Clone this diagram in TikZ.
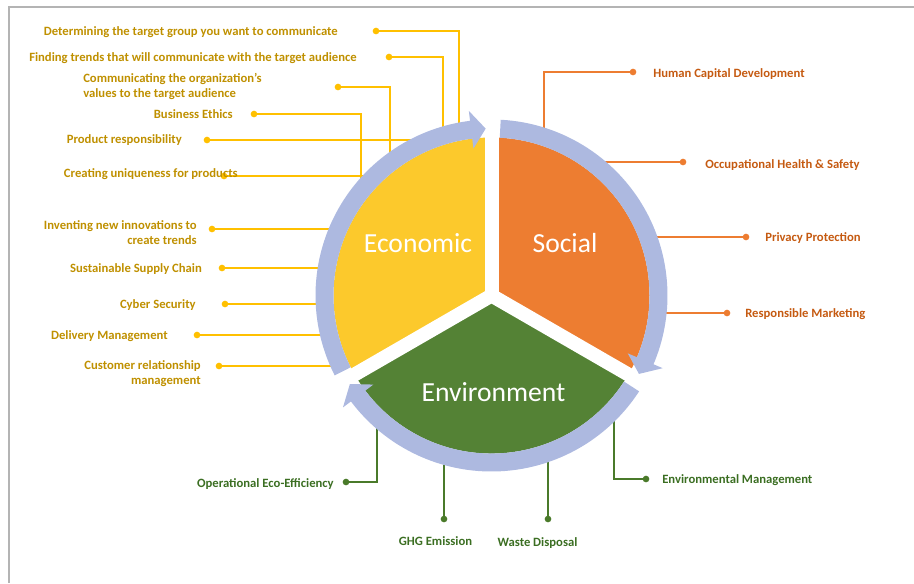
\documentclass[tikz,border=0pt]{standalone}
\usepackage{fontspec}
\setmainfont{Carlito}
\definecolor{yln}{HTML}{FFC000}
\definecolor{ytxt}{HTML}{BF9000}
\definecolor{oln}{HTML}{ED7D31}
\definecolor{otxt}{HTML}{C55A11}
\definecolor{gln}{HTML}{4A7A2A}
\definecolor{gtxt}{HTML}{3B6E22}
\definecolor{secY}{HTML}{FCC92C}
\definecolor{secO}{HTML}{ED7D31}
\definecolor{secG}{HTML}{548235}
\definecolor{ringc}{HTML}{ADB9E0}
\definecolor{framec}{HTML}{B4B4B4}
\tikzset{
  lab/.style={font=\fontsize{9.5}{11.3}\selectfont\bfseries, inner sep=0pt},
  ylab/.style={lab, text=ytxt},
  olab/.style={lab, text=otxt},
  glab/.style={lab, text=gtxt},
  dotn/.style={circle, inner sep=0pt, minimum size=5pt},
  ydot/.style={dotn, fill=yln},
  odot/.style={dotn, fill=oln},
  gdot/.style={dotn, fill=gln},
  yconn/.style={draw=yln, line width=1.5pt},
  oconn/.style={draw=oln, line width=1.5pt},
  gconn/.style={draw=gln, line width=1.5pt},
  big/.style={font=\fontsize{20.7}{24}\selectfont, text=white, inner sep=0pt},
  gapline/.style={draw=white, line width=10.5pt},
  ringarrow/.style={fill=ringc},
}
\begin{document}
\begin{tikzpicture}[x=0.75pt, y=-0.75pt]
\useasboundingbox (0,0) rectangle (914,583);
\draw[framec, line width=1.5pt] (9,583) -- (9,7) -- (914,7);

% ---------- dots ----------
\node[ydot] (d1) at (376,31) {};
\node[ydot] (d2) at (389,57) {};
\node[ydot] (d3) at (338,87) {};
\node[ydot] (d4) at (254,114) {};
\node[ydot] (d5) at (207,140) {};
\node[ydot] (d6) at (224,176) {};
\node[ydot] (d7) at (212,229) {};
\node[ydot] (d8) at (222,268) {};
\node[ydot] (d9) at (225,304) {};
\node[ydot] (d10) at (197,335) {};
\node[ydot] (d11) at (219,366) {};
\node[odot] (s1) at (633,72) {};
\node[odot] (s2) at (683,162) {};
\node[odot] (s3) at (746,237) {};
\node[odot] (s4) at (727,313) {};
\node[gdot] (g1) at (346,482) {};
\node[gdot] (g2) at (444,519) {};
\node[gdot] (g3) at (548,519) {};
\node[gdot] (g4) at (646,479) {};

% ---------- connector ends (under the ring) ----------
\coordinate (e1) at (459,132);
\coordinate (e2) at (443,136);
\coordinate (e3) at (390,163);
\coordinate (e4) at (361,180);
\coordinate (e5) at (431,140);
\coordinate (e6) at (366,176);
\coordinate (e7) at (337,229);
\coordinate (e8) at (325,268);
\coordinate (e9) at (323,304);
\coordinate (e10) at (327,335);
\coordinate (e11) at (338,366);
\coordinate (f1) at (544,138);
\coordinate (f2) at (591,162);
\coordinate (f3) at (648,237);
\coordinate (f4) at (658,313);
\coordinate (h1) at (377,420);
\coordinate (h2) at (444,458);
\coordinate (h3) at (548,455);
\coordinate (h4) at (614,411);

% ---------- connectors ----------
\draw[yconn] (d1.center) -| (e1);
\draw[yconn] (d2.center) -| (e2);
\draw[yconn] (d3.center) -| (e3);
\draw[yconn] (d4.center) -| (e4);
\draw[yconn] (d5.center) -- (e5);
\draw[yconn] (d6.center) -- (e6);
\draw[yconn] (d7.center) -- (e7);
\draw[yconn] (d8.center) -- (e8);
\draw[yconn] (d9.center) -- (e9);
\draw[yconn] (d10.center) -- (e10);
\draw[yconn] (d11.center) -- (e11);
\draw[oconn] (s1.center) -| (f1);
\draw[oconn] (s2.center) -- (f2);
\draw[oconn] (s3.center) -- (f3);
\draw[oconn] (s4.center) -- (f4);
\draw[gconn] (g1.center) -| (h1);
\draw[gconn] (g2.center) -- (h2);
\draw[gconn] (g3.center) -- (h3);
\draw[gconn] (g4.center) -| (h4);

% ---------- sectors and ring ----------
\begin{scope}[shift={(491.5,295.5)}]
  \fill[secY] (0,0) -- (-90:158) arc[start angle=-90, end angle=-210, radius=158] -- cycle;
  \fill[secO] (0,0) -- (-90:158) arc[start angle=-90, end angle=30, radius=158] -- cycle;
  \fill[secG] (0,0) -- (30:158) arc[start angle=30, end angle=150, radius=158] -- cycle;
  \draw[gapline] (0,0) -- (-90:162);
  \draw[gapline] (0,0) -- (150:162);
  \draw[gapline] (0,0) -- (30:162);
  \fill[ringarrow] (-207:176) arc[start angle=-207, end angle=-97, radius=176]
     -- (-97:186) -- (-92:167) -- (-97:148) -- (-97:158)
     arc[start angle=-97, end angle=-207, radius=158] -- cycle;
  \fill[ringarrow] (-87:176) arc[start angle=-87, end angle=23, radius=176]
     -- (23:186) -- (28:167) -- (23:148) -- (23:158)
     arc[start angle=23, end angle=-87, radius=158] -- cycle;
  \fill[ringarrow] (33:176) arc[start angle=33, end angle=143, radius=176]
     -- (143:186) -- (148:167) -- (143:148) -- (143:158)
     arc[start angle=143, end angle=33, radius=158] -- cycle;
\end{scope}

% ---------- centre labels ----------
\node[big] (econ) at (418,243) {Economic};
\node[big] (soc) at (565,243) {Social};
\node[big] (env) at (493.5,392) {Environment};

% ---------- labels ----------
\node[ylab, anchor=base east] (t1) at (338,35) {Determining the target group you want to communicate};
\node[ylab, anchor=base east] (t2) at (357,61) {Finding trends that will communicate with the target audience};
\node[ylab, anchor=west, align=left] (t3) at (83,86.5) {Communicating the organization's\\values to the target audience};
\node[ylab, anchor=base east] (t4) at (233,118) {Business Ethics};
\node[ylab, anchor=base east] (t5) at (182,143) {Product responsibility};
\node[ylab, anchor=base east] (t6) at (238,177) {Creating uniqueness for products};
\node[ylab, anchor=east, align=right] (t7) at (197,232.5) {Inventing new innovations to\\create trends};
\node[ylab, anchor=base east] (t8) at (202,272) {Sustainable Supply Chain};
\node[ylab, anchor=base east] (t9) at (196,308) {Cyber Security};
\node[ylab, anchor=base east] (t10) at (168,339) {Delivery Management};
\node[ylab, anchor=east, align=right] (t11) at (201,373.5) {Customer relationship\\management};
\node[olab, anchor=base west] (u1) at (653,77) {Human Capital Development};
\node[olab, anchor=base west] (u2) at (705,168) {Occupational Health \& Safety};
\node[olab, anchor=base west] (u3) at (765,241) {Privacy Protection};
\node[olab, anchor=base west] (u4) at (745,317) {Responsible Marketing};
\node[glab, anchor=base east] (v1) at (334,487) {Operational Eco-Efficiency};
\node[glab, anchor=base] (v2) at (435.5,545) {GHG Emission};
\node[glab, anchor=base] (v3) at (537.5,546) {Waste Disposal};
\node[glab, anchor=base west] (v4) at (662,483) {Environmental Management};
\end{tikzpicture}
\end{document}
